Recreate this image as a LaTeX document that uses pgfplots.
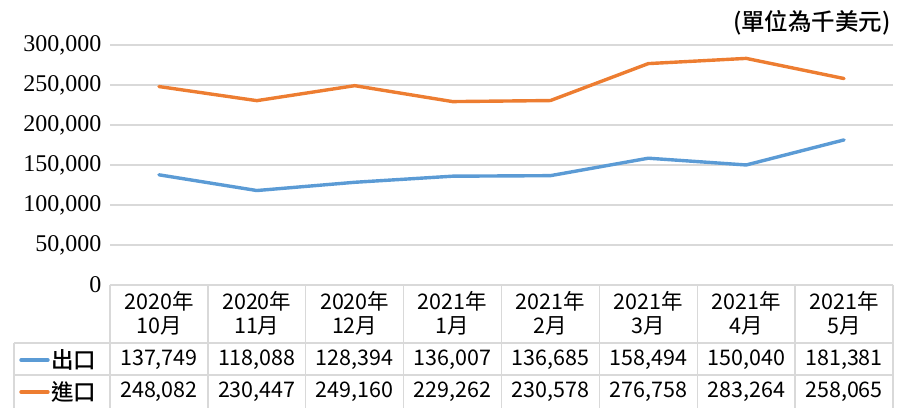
\documentclass[border=0pt]{standalone}
\usepackage{pgfplots}
\pgfplotsset{compat=1.18}
\usepackage{fontspec}
\setmainfont{Liberation Serif}
\newfontfamily\cjk{Noto Sans CJK TC}
\newfontfamily\cjkm{Noto Sans CJK TC Medium}
\definecolor{cblue}{HTML}{5B9BD5}
\definecolor{corange}{HTML}{ED7D31}
\definecolor{gridc}{HTML}{D9D9D9}
\newcommand{\tf}{\cjk\fontsize{21.5}{23.5}\selectfont}
\begin{document}
\begin{tikzpicture}[x=1pt,y=1pt]
\path[use as bounding box] (0,0) rectangle (904,408);
\begin{axis}[at={(110pt,123pt)}, anchor=south west,
  width=783pt, height=240pt, scale only axis,
  xmin=-0.5, xmax=7.5, ymin=0, ymax=300000,
  axis line style={draw=none}, xtick=\empty,
  ytick={0,50000,100000,150000,200000,250000,300000},
  scaled y ticks=false,
  /pgf/number format/fixed, /pgf/number format/1000 sep={,},
  /pgf/number format/assume math mode=true,
  yticklabel style={font=\fontsize{24}{24}\selectfont, xshift=-5pt},
  major tick length=0pt,
  ymajorgrids, grid style={gridc, line width=1.4pt},
  clip=false]
\addplot[cblue, line width=3.4pt, line cap=round, line join=round] coordinates {
 (0,137749) (1,118088) (2,128394) (3,136007) (4,136685) (5,158494) (6,150040) (7,181381)};
\addplot[corange, line width=3.4pt, line cap=round, line join=round] coordinates {
 (0,248082) (1,230447) (2,249160) (3,229262) (4,230578) (5,276758) (6,283264) (7,258065)};
\end{axis}
% data table
\begin{scope}[gridc, line width=1.4pt]
\draw (110,123) -- (893,123);
\draw (14,65) -- (893,65);
\draw (14,33) -- (893,33);
\draw (14,65) -- (14,0);
\foreach \k in {0,...,8} { \draw ({110+\k*97.875},123) -- ({110+\k*97.875},0); }
\end{scope}
\foreach \lab [count=\i from 0] in {{2020年\\10月},{2020年\\11月},{2020年\\12月},{2021年\\1月},{2021年\\2月},{2021年\\3月},{2021年\\4月},{2021年\\5月}} {
  \node[align=center, inner sep=0pt, font=\tf] at ({110+(\i+0.5)*97.875},94.5) {\lab};
}
\foreach \v [count=\i from 0] in {{137,749},{118,088},{128,394},{136,007},{136,685},{158,494},{150,040},{181,381}} {
  \node[inner sep=0pt, font=\tf] at ({110+(\i+0.5)*97.875},48) {\v};
}
\foreach \v [count=\i from 0] in {{248,082},{230,447},{249,160},{229,262},{230,578},{276,758},{283,264},{258,065}} {
  \node[inner sep=0pt, font=\tf] at ({110+(\i+0.5)*97.875},16) {\v};
}
\draw[cblue, line width=3.4pt, line cap=round] (21,48) -- (48,48);
\draw[corange, line width=3.4pt, line cap=round] (21,16) -- (48,16);
\node[anchor=west, inner sep=0pt, font=\cjkm\fontsize{22.5}{22.5}\selectfont] at (51,48) {出口};
\node[anchor=west, inner sep=0pt, font=\cjkm\fontsize{22.5}{22.5}\selectfont] at (51,16) {進口};
% unit note
\node[anchor=east, inner sep=0pt, font=\cjkm\fontsize{23.5}{23.5}\selectfont] at (891,385) {(單位為千美元)};
\end{tikzpicture}
\end{document}
